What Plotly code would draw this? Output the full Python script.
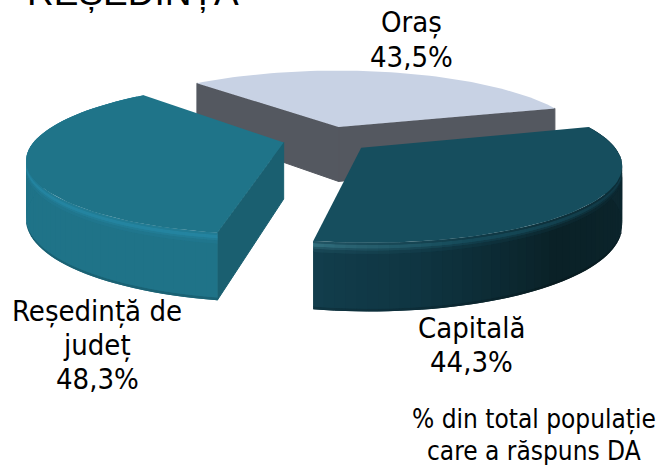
import math
import numpy as np
import plotly.graph_objects as go

# ---- data ----
categories = ["Oraș", "Capitală", "Reședință de județ"]
values = [43.5, 44.3, 48.3]
value_labels = ["43,5%", "44,3%", "48,3%"]
title_text = "REȘEDINȚĂ"
note_lines = ["% din total populație", "care a răspuns DA"]

# ---- scene (perspective of the tilted pie) ----
W, H = 662, 465
CX, CY, A, B, PERSP, DEPTH = 327, 154, 253, 75, 0.2, 56
EXPLODE = 0.18
START = 228.0


def project(u, v, z=0.0):
    u, v = np.asarray(u, float), np.asarray(v, float)
    s = 1 / (1 - PERSP * v)
    x = CX + A * u * math.sqrt(1 - PERSP ** 2) * s
    y = CY + B * (v - PERSP) * s + DEPTH * z * s ** 0.8
    return x, y


def hex2rgb(c):
    return np.array([int(c[i:i + 2], 16) for i in (1, 3, 5)], float)


def rgb(c):
    return "rgb(%d,%d,%d)" % tuple(np.clip(np.round(c), 0, 255))


def ramp(t, stops):
    xs = [s[0] for s in stops]
    cs = np.array([hex2rgb(s[1]) for s in stops])
    return np.array([np.interp(t, xs, cs[:, i]) for i in range(3)])


fig = go.Figure()


def poly(xs, ys, color, lw=0):
    fig.add_trace(go.Scatter(
        x=list(xs), y=list(ys), mode="lines", fill="toself", fillcolor=color,
        line=dict(color=color, width=lw), hoverinfo="skip", showlegend=False))


styles = {
    "Oraș": dict(top="#c8d2e4", wall="#545860", rim=None, bevel=None, walls="both"),
    "Capitală": dict(
        top="#164e5e", wall="#0e2a33", walls="none",
        rim=[(-20, "#0e2a33"), (20, "#0b242b"), (50, "#0a2127"), (80, "#0f3542"), (100, "#123e4d")],
        bevel=[(-20, "#0f3d4a"), (30, "#103845"), (70, "#154a59"), (90, "#27606f"), (100, "#33707f")]),
    "Reședință de județ": dict(
        top="#1f7489", wall="#1a5f70", walls="end",
        rim=[(99, "#195563"), (125, "#1a5f70"), (150, "#1e6c84"), (175, "#1f7388"), (230, "#1f7388")],
        bevel=[(99, "#3f98ad"), (108, "#62c8de"), (122, "#62c8de"), (140, "#3a9ab4"), (160, "#2a8ba6"), (180, "#2587a3"), (230, "#2484a0")]),
}

BANDS = [(0.96, 1.0, -0.15), (0.16, 0.96, 0.0), (0.11, 0.16, 0.2), (0.08, 0.11, 0.55), (0.03, 0.08, 1.0), (0.00, 0.03, 0.5)]

# angular span of each slice, from the values
total = sum(values)
spans = {}
ang = START
for name, val in zip(categories, values):
    spans[name] = (ang, ang + val / total * 360)
    ang += val / total * 360


def draw_slice(name):
    t0, t1 = spans[name]
    st = styles[name]
    mid = math.radians((t0 + t1) / 2)
    ou, ov = EXPLODE * math.cos(mid), EXPLODE * math.sin(mid)
    ts = np.linspace(t0, t1, 61)
    us = ou + np.cos(np.radians(ts))
    vs = ov + np.sin(np.radians(ts))

    def wall(idx):
        x0, y0 = project(ou, ov, 0)
        x1, y1 = project(us[idx], vs[idx], 0)
        x2, y2 = project(us[idx], vs[idx], 1)
        x3, y3 = project(ou, ov, 1)
        poly([x0, x1, x2, x3, x0], [y0, y1, y2, y3, y0], st["wall"], 1)

    if st["walls"] == "both":
        wall(0)
        wall(-1)
    elif st["walls"] == "end":
        wall(0)

    if st["rim"]:
        desc = name == "Capitală"
        order = range(len(ts) - 2, -1, -1) if desc else range(len(ts) - 1)
        for z0, z1, w in BANDS:
            for i in order:
                tm = (ts[i] + ts[i + 1]) / 2
                tn = (tm + 180) % 360 - 180 if desc else tm
                base = ramp(tn, st["rim"])
                bev = ramp(tn, st["bevel"])
                col = base * (1 + w) if w < 0 else base * (1 - w) + bev * w
                # each strip overlaps the previous one, which hides the seams
                lo, hi = (i, min(i + 3, len(ts))) if desc else (max(i - 1, 0), i + 2)
                za = max(z0 - 0.01, 0)
                xa, ya = project(us[lo:hi], vs[lo:hi], za)
                xb, yb = project(us[lo:hi], vs[lo:hi], z1)
                poly(list(xa) + list(xb[::-1]) + [xa[0]],
                     list(ya) + list(yb[::-1]) + [ya[0]], rgb(col))

    xr, yr = project(us, vs, 0)
    xc, yc = project(ou, ov, 0)
    poly([float(xc)] + list(xr) + [float(xc)], [float(yc)] + list(yr) + [float(yc)], st["top"])


for name in ["Oraș", "Reședință de județ", "Capitală"]:
    draw_slice(name)

# ---- texts ----
FONT = "DejaVu Sans Condensed, DejaVu Sans, sans-serif"


def text(s, x, y, size=29, family=FONT):
    fig.add_annotation(x=x / W, y=1 - y / H, text=s, showarrow=False, xref="paper", yref="paper",
                       xanchor="center", yanchor="middle",
                       font=dict(family=family, size=size, color="#000000"))


text(categories[0], 411, 22)
text(value_labels[0], 411, 57)
text(categories[1], 472, 328)
text(value_labels[1], 472, 362)
text("Reședință de", 97, 311)
text("județ", 97, 345)
text(value_labels[2], 97, 379)
text(note_lines[0], 534, 419, 26)
text(note_lines[1], 534, 451, 26)
text(title_text, 133, -8, 37, "Liberation Sans")

fig.update_layout(
    width=W, height=H, margin=dict(l=0, r=0, t=0, b=0),
    paper_bgcolor="white", plot_bgcolor="white", showlegend=False,
    xaxis=dict(range=[0, W], visible=False, fixedrange=True),
    yaxis=dict(range=[H, 0], visible=False, fixedrange=True),
)
fig.write_html("out.html", config={"displayModeBar": False},
               post_script="document.body.style.margin='0';document.documentElement.style.overflow='hidden';")
